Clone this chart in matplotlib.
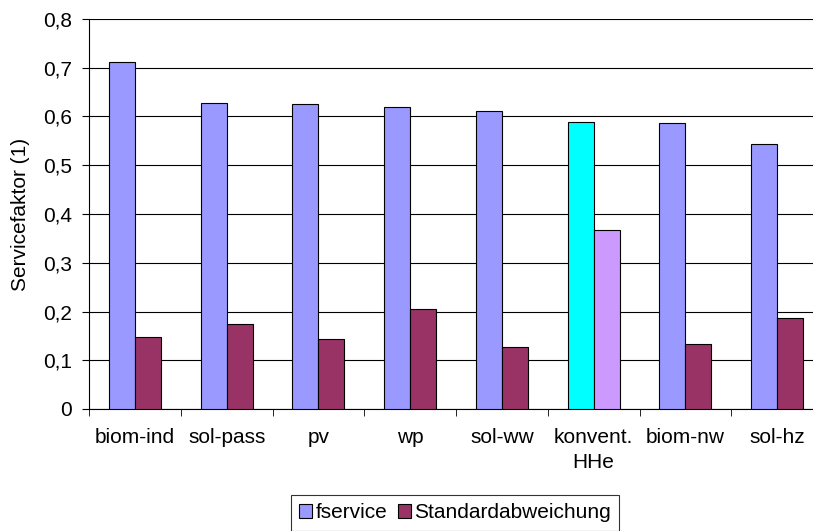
import numpy as np
import matplotlib.pyplot as plt

plt.rcParams['font.family'] = ['Liberation Sans', 'DejaVu Sans']

categories = ['biom-ind', 'sol-pass', 'pv', 'wp', 'sol-ww', 'konvent.\nHHe', 'biom-nw', 'sol-hz']
fservice = [0.711, 0.627, 0.625, 0.619, 0.611, 0.589, 0.586, 0.543]
stdabw = [0.147, 0.174, 0.144, 0.206, 0.127, 0.368, 0.133, 0.187]

blue_cols = ['#9999FF'] * 8
red_cols = ['#993366'] * 8
blue_cols[5] = '#00FFFF'
red_cols[5] = '#CC99FF'

fs = 15

fig = plt.figure(figsize=(8.13, 5.31), dpi=100)
ax = fig.add_axes([89 / 813, 1 - 409 / 531, (823 - 89) / 813, 390 / 531])

x = np.arange(len(categories))
w = 0.283
ax.bar(x - w / 2, fservice, w, color=blue_cols, edgecolor='black', linewidth=0.8, zorder=3, label='fservice')
ax.bar(x + w / 2, stdabw, w, color=red_cols, edgecolor='black', linewidth=0.8, zorder=3, label='Standardabweichung')

ax.set_xlim(-0.5, len(categories) - 0.5)
ax.set_ylim(0, 0.8)
ax.set_yticks(np.arange(0, 0.81, 0.1))
ax.set_yticklabels(['0'] + [f'0,{i}' for i in range(1, 9)], fontsize=fs)
ax.yaxis.grid(True, color='black', linewidth=0.8, zorder=0)

ax.set_xticks(x)
ax.set_xticklabels(categories, fontsize=fs, linespacing=1.35)
ax.tick_params(axis='x', length=0, pad=14)
ax.set_xticks(np.arange(-0.5, len(categories)), minor=True)
ax.tick_params(axis='x', which='minor', length=5, direction='out')
ax.tick_params(axis='y', length=5, direction='out', pad=7)

for s in ['top', 'right']:
    ax.spines[s].set_visible(False)
ax.spines['left'].set_color('black')
ax.spines['bottom'].set_color('black')

ax.set_ylabel('Servicefaktor (1)', fontsize=fs)
ax.yaxis.set_label_coords(-59 / 734, 0.5)

leg = fig.legend(loc='lower center', bbox_to_anchor=(455 / 813, -10 / 531), ncol=2, fontsize=fs,
                 frameon=True, fancybox=False, edgecolor='black', handlelength=0.65, handleheight=0.65,
                 handletextpad=0.15, columnspacing=0.5, borderpad=0.4)
leg.get_frame().set_linewidth(0.8)

fig.savefig('out.png', dpi=100)
